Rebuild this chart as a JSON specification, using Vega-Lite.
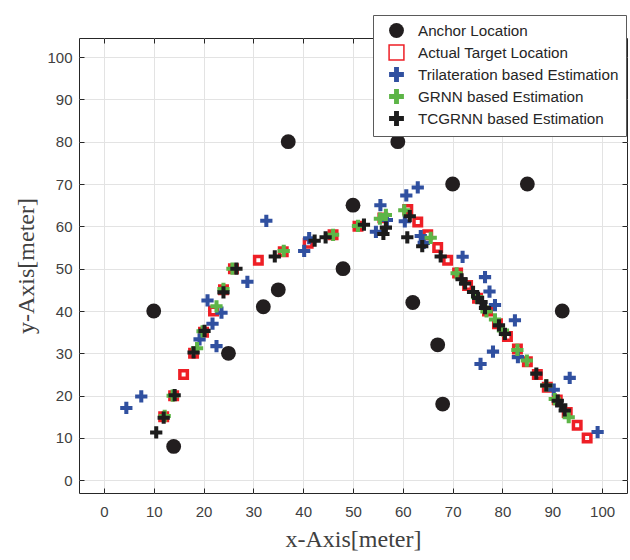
{
  "$schema": "https://vega.github.io/schema/vega-lite/v6.json",
  "autosize": {"type": "none"},
  "padding": {"left": 79, "top": 38, "right": 3, "bottom": 67},
  "width": 548,
  "height": 455,
  "background": "white",
  "config": {
    "view": {"stroke": "#262626", "strokeWidth": 1},
    "font": "Liberation Sans"
  },
  "data": {
    "values": [
      {"x": 10, "y": 40, "series": "Anchor Location"},
      {"x": 14, "y": 8, "series": "Anchor Location"},
      {"x": 25, "y": 30, "series": "Anchor Location"},
      {"x": 32, "y": 41, "series": "Anchor Location"},
      {"x": 35, "y": 45, "series": "Anchor Location"},
      {"x": 37, "y": 80, "series": "Anchor Location"},
      {"x": 48, "y": 50, "series": "Anchor Location"},
      {"x": 50, "y": 65, "series": "Anchor Location"},
      {"x": 59, "y": 80, "series": "Anchor Location"},
      {"x": 62, "y": 42, "series": "Anchor Location"},
      {"x": 67, "y": 32, "series": "Anchor Location"},
      {"x": 68, "y": 18, "series": "Anchor Location"},
      {"x": 70, "y": 70, "series": "Anchor Location"},
      {"x": 85, "y": 70, "series": "Anchor Location"},
      {"x": 92, "y": 40, "series": "Anchor Location"},

      {"x": 12, "y": 15, "series": "Actual Target Location"},
      {"x": 14, "y": 20, "series": "Actual Target Location"},
      {"x": 16, "y": 25, "series": "Actual Target Location"},
      {"x": 18, "y": 30, "series": "Actual Target Location"},
      {"x": 20, "y": 35, "series": "Actual Target Location"},
      {"x": 22, "y": 40, "series": "Actual Target Location"},
      {"x": 24, "y": 45, "series": "Actual Target Location"},
      {"x": 26, "y": 50, "series": "Actual Target Location"},
      {"x": 31, "y": 52, "series": "Actual Target Location"},
      {"x": 36, "y": 54, "series": "Actual Target Location"},
      {"x": 41, "y": 56, "series": "Actual Target Location"},
      {"x": 46, "y": 58, "series": "Actual Target Location"},
      {"x": 51, "y": 60, "series": "Actual Target Location"},
      {"x": 56, "y": 62, "series": "Actual Target Location"},
      {"x": 61, "y": 64, "series": "Actual Target Location"},
      {"x": 63, "y": 61, "series": "Actual Target Location"},
      {"x": 65, "y": 58, "series": "Actual Target Location"},
      {"x": 67, "y": 55, "series": "Actual Target Location"},
      {"x": 69, "y": 52, "series": "Actual Target Location"},
      {"x": 71, "y": 49, "series": "Actual Target Location"},
      {"x": 73, "y": 46, "series": "Actual Target Location"},
      {"x": 75, "y": 43, "series": "Actual Target Location"},
      {"x": 77, "y": 40, "series": "Actual Target Location"},
      {"x": 79, "y": 37, "series": "Actual Target Location"},
      {"x": 81, "y": 34, "series": "Actual Target Location"},
      {"x": 83, "y": 31, "series": "Actual Target Location"},
      {"x": 85, "y": 28, "series": "Actual Target Location"},
      {"x": 87, "y": 25, "series": "Actual Target Location"},
      {"x": 89, "y": 22, "series": "Actual Target Location"},
      {"x": 91, "y": 19, "series": "Actual Target Location"},
      {"x": 93, "y": 16, "series": "Actual Target Location"},
      {"x": 95, "y": 13, "series": "Actual Target Location"},
      {"x": 97, "y": 10, "series": "Actual Target Location"},

      {"x": 4.5, "y": 17.1, "series": "Trilateration based Estimation"},
      {"x": 7.5, "y": 19.8, "series": "Trilateration based Estimation"},
      {"x": 19.2, "y": 33.3, "series": "Trilateration based Estimation"},
      {"x": 21.8, "y": 37.0, "series": "Trilateration based Estimation"},
      {"x": 22.6, "y": 31.7, "series": "Trilateration based Estimation"},
      {"x": 20.8, "y": 42.5, "series": "Trilateration based Estimation"},
      {"x": 23.6, "y": 39.6, "series": "Trilateration based Estimation"},
      {"x": 28.8, "y": 46.9, "series": "Trilateration based Estimation"},
      {"x": 32.6, "y": 61.3, "series": "Trilateration based Estimation"},
      {"x": 40.2, "y": 54.2, "series": "Trilateration based Estimation"},
      {"x": 41.2, "y": 57.2, "series": "Trilateration based Estimation"},
      {"x": 54.6, "y": 58.7, "series": "Trilateration based Estimation"},
      {"x": 55.5, "y": 65.0, "series": "Trilateration based Estimation"},
      {"x": 56.8, "y": 61.5, "series": "Trilateration based Estimation"},
      {"x": 60.4, "y": 61.2, "series": "Trilateration based Estimation"},
      {"x": 60.7, "y": 67.3, "series": "Trilateration based Estimation"},
      {"x": 63.0, "y": 69.2, "series": "Trilateration based Estimation"},
      {"x": 63.6, "y": 57.7, "series": "Trilateration based Estimation"},
      {"x": 64.2, "y": 56.1, "series": "Trilateration based Estimation"},
      {"x": 72.0, "y": 52.8, "series": "Trilateration based Estimation"},
      {"x": 76.5, "y": 48.0, "series": "Trilateration based Estimation"},
      {"x": 77.4, "y": 44.6, "series": "Trilateration based Estimation"},
      {"x": 78.5, "y": 41.4, "series": "Trilateration based Estimation"},
      {"x": 82.5, "y": 37.8, "series": "Trilateration based Estimation"},
      {"x": 78.1, "y": 30.4, "series": "Trilateration based Estimation"},
      {"x": 75.6, "y": 27.5, "series": "Trilateration based Estimation"},
      {"x": 83.1, "y": 29.1, "series": "Trilateration based Estimation"},
      {"x": 93.5, "y": 24.2, "series": "Trilateration based Estimation"},
      {"x": 90.3, "y": 21.4, "series": "Trilateration based Estimation"},
      {"x": 99.1, "y": 11.4, "series": "Trilateration based Estimation"},

      {"x": 12.2, "y": 15.2, "series": "GRNN based Estimation"},
      {"x": 13.8, "y": 20.0, "series": "GRNN based Estimation"},
      {"x": 18.7, "y": 31.2, "series": "GRNN based Estimation"},
      {"x": 19.8, "y": 35.2, "series": "GRNN based Estimation"},
      {"x": 22.6, "y": 41.1, "series": "GRNN based Estimation"},
      {"x": 24.0, "y": 45.2, "series": "GRNN based Estimation"},
      {"x": 25.8, "y": 50.0, "series": "GRNN based Estimation"},
      {"x": 36.1, "y": 54.2, "series": "GRNN based Estimation"},
      {"x": 46.0, "y": 58.0, "series": "GRNN based Estimation"},
      {"x": 51.0, "y": 60.1, "series": "GRNN based Estimation"},
      {"x": 55.4, "y": 61.8, "series": "GRNN based Estimation"},
      {"x": 56.6, "y": 62.7, "series": "GRNN based Estimation"},
      {"x": 60.3, "y": 63.8, "series": "GRNN based Estimation"},
      {"x": 65.6, "y": 57.3, "series": "GRNN based Estimation"},
      {"x": 70.8, "y": 48.9, "series": "GRNN based Estimation"},
      {"x": 74.9, "y": 43.3, "series": "GRNN based Estimation"},
      {"x": 76.8, "y": 39.9, "series": "GRNN based Estimation"},
      {"x": 78.5, "y": 38.0, "series": "GRNN based Estimation"},
      {"x": 80.1, "y": 35.4, "series": "GRNN based Estimation"},
      {"x": 83.0, "y": 30.8, "series": "GRNN based Estimation"},
      {"x": 84.9, "y": 28.3, "series": "GRNN based Estimation"},
      {"x": 88.8, "y": 22.4, "series": "GRNN based Estimation"},
      {"x": 90.5, "y": 19.2, "series": "GRNN based Estimation"},
      {"x": 93.3, "y": 14.9, "series": "GRNN based Estimation"},

      {"x": 10.5, "y": 11.3, "series": "TCGRNN based Estimation"},
      {"x": 12.0, "y": 14.8, "series": "TCGRNN based Estimation"},
      {"x": 14.2, "y": 20.1, "series": "TCGRNN based Estimation"},
      {"x": 18.0, "y": 30.2, "series": "TCGRNN based Estimation"},
      {"x": 20.2, "y": 35.3, "series": "TCGRNN based Estimation"},
      {"x": 24.0, "y": 44.4, "series": "TCGRNN based Estimation"},
      {"x": 26.6, "y": 50.0, "series": "TCGRNN based Estimation"},
      {"x": 34.3, "y": 52.9, "series": "TCGRNN based Estimation"},
      {"x": 42.3, "y": 56.6, "series": "TCGRNN based Estimation"},
      {"x": 44.5, "y": 57.4, "series": "TCGRNN based Estimation"},
      {"x": 52.2, "y": 60.4, "series": "TCGRNN based Estimation"},
      {"x": 56.6, "y": 59.7, "series": "TCGRNN based Estimation"},
      {"x": 56.1, "y": 58.2, "series": "TCGRNN based Estimation"},
      {"x": 61.4, "y": 62.4, "series": "TCGRNN based Estimation"},
      {"x": 60.9, "y": 57.4, "series": "TCGRNN based Estimation"},
      {"x": 63.9, "y": 55.3, "series": "TCGRNN based Estimation"},
      {"x": 67.6, "y": 52.9, "series": "TCGRNN based Estimation"},
      {"x": 71.8, "y": 47.5, "series": "TCGRNN based Estimation"},
      {"x": 72.5, "y": 46.5, "series": "TCGRNN based Estimation"},
      {"x": 74.1, "y": 44.5, "series": "TCGRNN based Estimation"},
      {"x": 75.1, "y": 43.1, "series": "TCGRNN based Estimation"},
      {"x": 75.8, "y": 42.1, "series": "TCGRNN based Estimation"},
      {"x": 76.5, "y": 40.7, "series": "TCGRNN based Estimation"},
      {"x": 79.3, "y": 36.6, "series": "TCGRNN based Estimation"},
      {"x": 80.5, "y": 34.6, "series": "TCGRNN based Estimation"},
      {"x": 86.8, "y": 25.2, "series": "TCGRNN based Estimation"},
      {"x": 88.8, "y": 22.4, "series": "TCGRNN based Estimation"},
      {"x": 91.1, "y": 18.8, "series": "TCGRNN based Estimation"},
      {"x": 91.8, "y": 17.7, "series": "TCGRNN based Estimation"},
      {"x": 92.5, "y": 16.5, "series": "TCGRNN based Estimation"}
    ]
  },
  "layer": [
    {
      "mark": {"type": "point", "filled": true, "opacity": 1},
      "encoding": {
        "x": {
          "field": "x", "type": "quantitative",
          "scale": {"domain": [-5, 105], "nice": false, "zero": false},
          "axis": {
            "title": "x-Axis[meter]",
            "values": [0, 10, 20, 30, 40, 50, 60, 70, 80, 90, 100],
            "domain": false,
            "grid": true, "gridColor": "#e3e3e3", "gridWidth": 1,
            "tickSize": -5, "tickColor": "#262626", "tickWidth": 1,
            "labelPadding": 16, "labelFont": "Liberation Sans", "labelFontSize": 15, "labelColor": "#404040",
            "titleFont": "Liberation Serif", "titleFontSize": 24, "titleFontWeight": "normal", "titleColor": "#404040",
            "titlePadding": 8
          }
        },
        "y": {
          "field": "y", "type": "quantitative",
          "scale": {"domain": [-3, 104.5], "nice": false, "zero": false},
          "axis": {
            "title": "y-Axis[meter]",
            "values": [0, 10, 20, 30, 40, 50, 60, 70, 80, 90, 100],
            "domain": false,
            "grid": true, "gridColor": "#e3e3e3", "gridWidth": 1,
            "tickSize": -5, "tickColor": "#262626", "tickWidth": 1,
            "labelPadding": 12, "labelFont": "Liberation Sans", "labelFontSize": 15, "labelColor": "#404040",
            "titleFont": "Liberation Serif", "titleFontSize": 24, "titleFontWeight": "normal", "titleColor": "#404040",
            "titlePadding": 8
          }
        },
        "shape": {
          "field": "series", "type": "nominal",
          "scale": {
            "domain": ["Anchor Location", "Actual Target Location", "Trilateration based Estimation", "GRNN based Estimation", "TCGRNN based Estimation"],
            "range": ["circle", "square",
              "M-1,-0.33H-0.33V-1H0.33V-0.33H1V0.33H0.33V1H-0.33V0.33H-1Z",
              "M-1,-0.33H-0.33V-1H0.33V-0.33H1V0.33H0.33V1H-0.33V0.33H-1Z",
              "M-1,-0.33H-0.33V-1H0.33V-0.33H1V0.33H0.33V1H-0.33V0.33H-1Z"]
          },
          "legend": {
            "title": null,
            "orient": "none", "legendX": 294, "legendY": -23,
            "direction": "vertical",
            "fillColor": "white", "strokeColor": "#5a5a5a",
            "padding": 7, "rowPadding": 1,
            "symbolSize": 220, "symbolOffset": 8,
            "labelFont": "Liberation Sans", "labelFontSize": 15.2, "labelColor": "#262626",
            "labelOffset": 13, "labelLimit": 300,
            "encode": {
              "symbols": {
                "size": {"value": {"expr": "datum.value === 'Anchor Location' ? 220 : datum.value === 'Actual Target Location' ? 56 : 150"}},
                "strokeWidth": {"value": {"expr": "datum.value === 'Actual Target Location' ? 3.5 : 0"}},
                "opacity": {"value": 1}
              }
            }
          }
        },
        "fill": {
          "field": "series", "type": "nominal",
          "scale": {
            "domain": ["Anchor Location", "Actual Target Location", "Trilateration based Estimation", "GRNN based Estimation", "TCGRNN based Estimation"],
            "range": ["#221e1f", "transparent", "#3050a0", "#5db547", "#1c1c1c"]
          }
        },
        "stroke": {
          "field": "series", "type": "nominal",
          "scale": {
            "domain": ["Anchor Location", "Actual Target Location", "Trilateration based Estimation", "GRNN based Estimation", "TCGRNN based Estimation"],
            "range": ["transparent", "#ee1f26", "transparent", "transparent", "transparent"]
          }
        },
        "strokeWidth": {
          "condition": {"test": "datum.series === 'Actual Target Location'", "value": 3.5},
          "value": 0
        },
        "size": {
          "condition": [
            {"test": "datum.series === 'Anchor Location'", "value": 220},
            {"test": "datum.series === 'Actual Target Location'", "value": 56}
          ],
          "value": 150
        }
      }
    },
    {
      "mark": {"type": "point", "opacity": 0},
      "encoding": {
        "x": {
          "field": "x", "type": "quantitative",
          "axis": {
            "orient": "top", "title": null, "labels": false, "grid": false, "domain": false,
            "values": [0, 10, 20, 30, 40, 50, 60, 70, 80, 90, 100],
            "tickSize": -5, "tickColor": "#262626", "tickWidth": 1
          }
        },
        "y": {
          "field": "y", "type": "quantitative",
          "axis": {
            "orient": "right", "title": null, "labels": false, "grid": false, "domain": false,
            "values": [0, 10, 20, 30, 40, 50, 60, 70, 80, 90, 100],
            "tickSize": -5, "tickColor": "#262626", "tickWidth": 1
          }
        }
      }
    }
  ],
  "resolve": {"axis": {"x": "independent", "y": "independent"}}
}
